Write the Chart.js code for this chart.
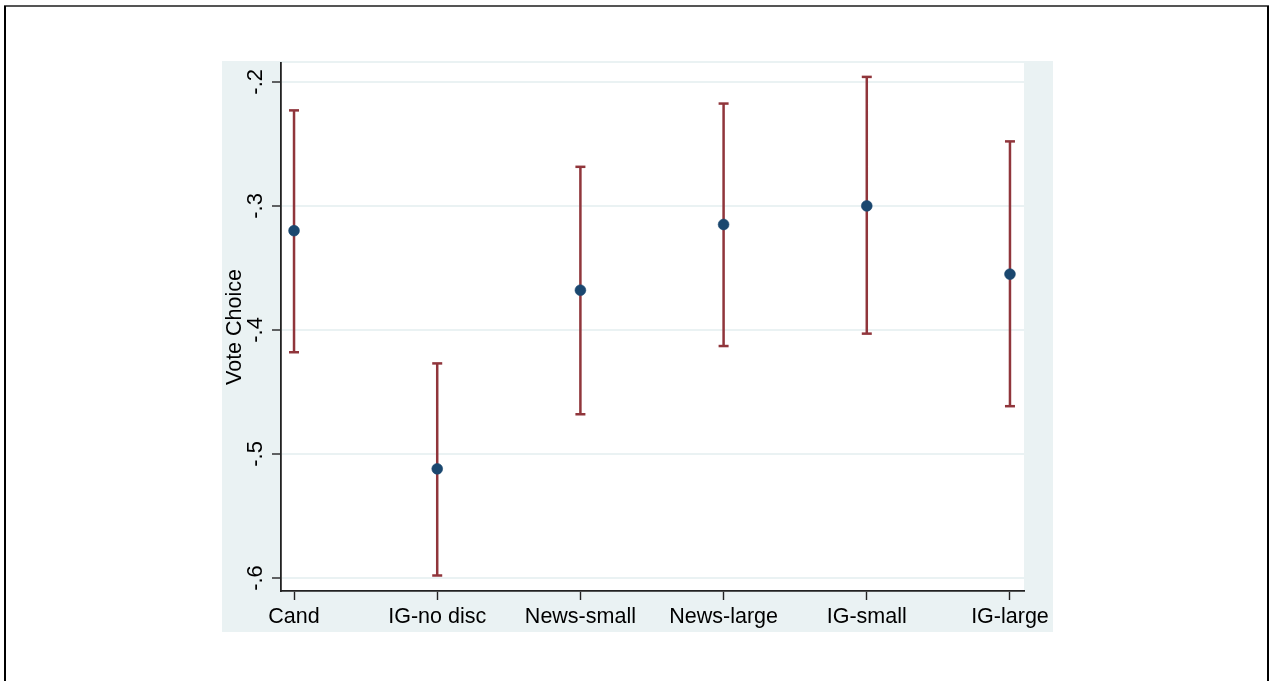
<!DOCTYPE html>
<html><head><meta charset="utf-8">
<script src="https://cdn.jsdelivr.net/npm/chart.js@4.4.1/dist/chart.umd.min.js"></script>
<style>html,body{margin:0;padding:0;background:#fff;} canvas{display:block;}</style>
</head><body>
<canvas id="c" width="1269" height="681"></canvas>
<script>
const categories = ['Cand', 'IG-no disc', 'News-small', 'News-large', 'IG-small', 'IG-large'];
const xPositions = [1, 2, 3, 4, 5, 6];
const estimates = [-0.320, -0.512, -0.368, -0.315, -0.300, -0.355];
const ciLower = [-0.418, -0.598, -0.468, -0.413, -0.403, -0.4615];
const ciUpper = [-0.223, -0.427, -0.2685, -0.2175, -0.196, -0.248];
const yTickValues = [-0.6, -0.5, -0.4, -0.3, -0.2];
const yTickLabels = ['-.6', '-.5', '-.4', '-.3', '-.2'];

const FONT = '"Liberation Sans", Arial, sans-serif';
const NAVY = '#1A476F';
const CRANBERRY = '#90353B';
const LTBLUE = '#EAF2F3';

const bgPlugin = {
  id: 'bg',
  beforeDraw(chart) {
    const ctx = chart.ctx;
    const ca = chart.chartArea;
    ctx.save();
    ctx.fillStyle = '#fff';
    ctx.fillRect(0, 0, chart.width, chart.height);
    ctx.fillStyle = LTBLUE;
    ctx.fillRect(222, 61, 1053 - 222, 632 - 61);
    ctx.fillStyle = '#fff';
    ctx.fillRect(ca.left, ca.top, ca.right - ca.left, ca.bottom - ca.top);
    // outer frame
    ctx.fillStyle = '#555';
    ctx.fillRect(4, 5, 1265, 2);
    ctx.fillStyle = '#000';
    ctx.fillRect(4, 6, 2, 675);
    ctx.fillRect(1267, 6, 2, 675);
    ctx.restore();
  }
};

const errLineData = xPositions.flatMap((x, i) => [
  {x: x, y: ciLower[i]}, {x: x, y: ciUpper[i]}, {x: x, y: null}
]);
const capData = xPositions.flatMap((x, i) => [
  {x: x, y: ciLower[i]}, {x: x, y: ciUpper[i]}
]);
const pointData = xPositions.map((x, i) => ({x: x, y: estimates[i]}));

new Chart(document.getElementById('c'), {
  type: 'scatter',
  data: {
    datasets: [
      {
        data: pointData,
        pointRadius: 5.4,
        pointBackgroundColor: NAVY,
        pointBorderColor: NAVY,
        pointBorderWidth: 0.6,
        showLine: false
      },
      {
        data: capData,
        pointStyle: 'line',
        pointRadius: 5,
        pointBorderColor: CRANBERRY,
        pointBorderWidth: 2.5,
        showLine: false
      },
      {
        data: errLineData,
        showLine: true,
        spanGaps: false,
        borderColor: CRANBERRY,
        borderWidth: 2.5,
        pointRadius: 0,
        borderCapStyle: 'butt'
      }
    ]
  },
  options: {
    responsive: false,
    devicePixelRatio: 1,
    animation: false,
    events: [],
    layout: {padding: {left: 222, right: 245, top: 63, bottom: 49}},
    plugins: {legend: {display: false}, tooltip: {enabled: false}, title: {display: false}},
    scales: {
      x: {
        type: 'linear',
        min: 0.909,
        max: 6.098,
        afterBuildTicks(scale) { scale.ticks = xPositions.map(v => ({value: v})); },
        afterFit(scale) { scale.height = 41; },
        ticks: {
          callback: (v) => categories[xPositions.indexOf(v)],
          color: '#000',
          font: {family: FONT, size: 21.5},
          padding: 4,
          maxRotation: 0,
          minRotation: 0,
          autoSkip: false
        },
        grid: {drawOnChartArea: false, tickLength: 9, tickColor: '#222', tickWidth: 1.4},
        border: {color: '#222', width: 1.8}
      },
      y: {
        type: 'linear',
        min: -0.6105,
        max: -0.1848,
        afterBuildTicks(scale) { scale.ticks = yTickValues.map(v => ({value: v})); },
        afterFit(scale) { scale.width = 59; },
        ticks: {
          callback: (v) => yTickLabels[yTickValues.findIndex(t => Math.abs(t - v) < 1e-9)],
          color: '#000',
          font: {family: FONT, size: 22},
          padding: 3,
          minRotation: 90,
          maxRotation: 90,
          crossAlign: 'center',
          autoSkip: false
        },
        grid: {color: LTBLUE, lineWidth: 2, tickLength: 9, tickColor: '#222', tickWidth: 1.4},
        border: {color: '#222', width: 1.8},
        title: {
          display: true,
          text: 'Vote Choice',
          color: '#000',
          font: {family: FONT, size: 21.5},
          padding: {top: 0, bottom: 0}
        }
      }
    }
  },
  plugins: [bgPlugin]
});
</script>
</body></html>
